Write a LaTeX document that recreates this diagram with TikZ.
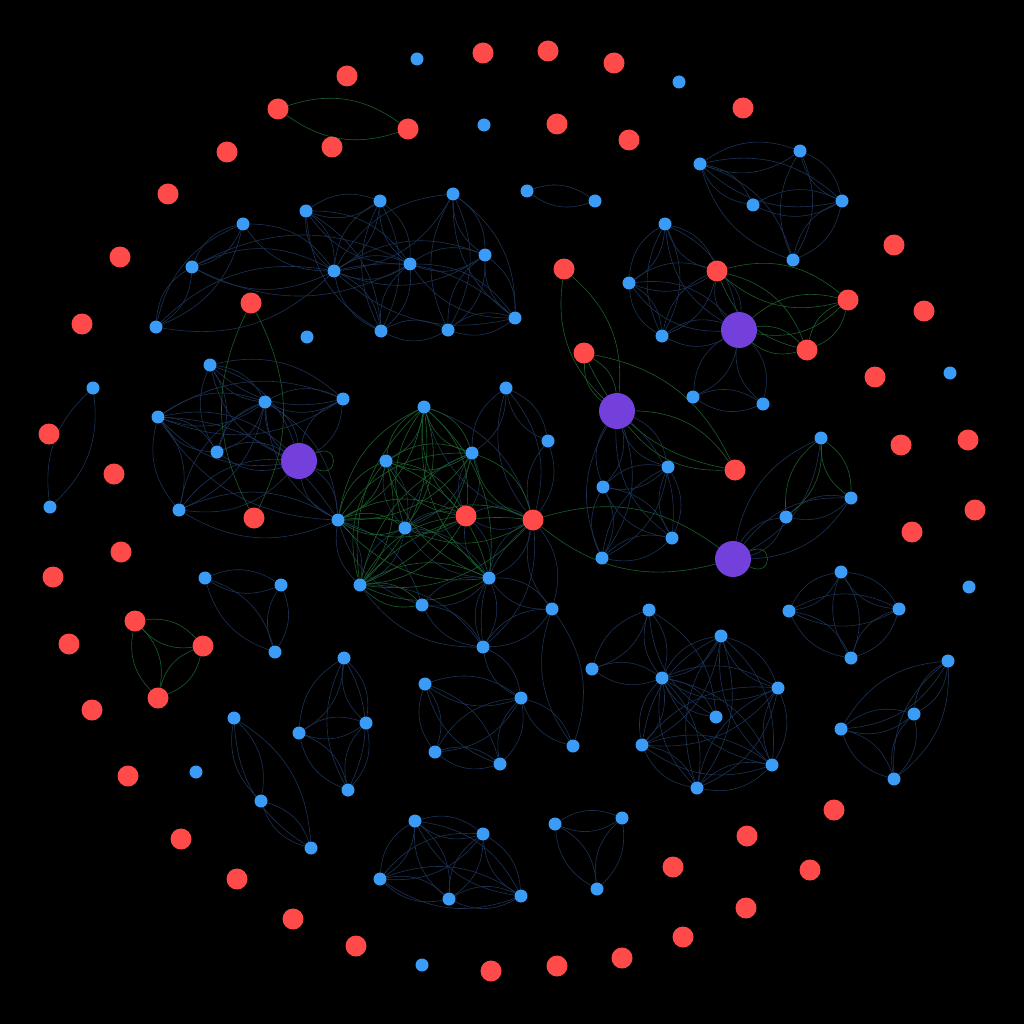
\documentclass[tikz,border=0pt]{standalone}
\usetikzlibrary{backgrounds}
\definecolor{nblue}{HTML}{3A9CF7}
\definecolor{nred}{HTML}{FF4A4A}
\definecolor{npurp}{HTML}{7440DC}
\definecolor{eblue}{HTML}{1C3356}
\definecolor{egreen}{HTML}{1A5E2C}
\tikzset{
  bnode/.style={circle,fill=nblue,draw=none,minimum size=13pt,inner sep=0pt},
  rnode/.style={circle,fill=nred,draw=none,minimum size=21pt,inner sep=0pt},
  pnode/.style={circle,fill=npurp,draw=none,minimum size=36pt,inner sep=0pt},
  bedge/.style={draw=eblue,line width=0.6pt},
  gedge/.style={draw=egreen,line width=0.6pt},
}
\begin{document}
\begin{tikzpicture}[x=1pt,y=-1pt]
\useasboundingbox (0,0) rectangle (1024,1024);
% red nodes
\foreach \n/\x/\y in {r01/347/76,r02/483/53,r03/548/51,r04/614/63,r05/743/108,r06/278/109,r07/408/129,r08/332/147,r09/557/124,r10/629/140,r11/227/152,r12/168/194,r13/894/245,r14/120/257,r15/564/269,r16/717/271,r17/848/300,r18/251/303,r19/924/311,r20/82/324,r21/807/350,r22/584/353,r23/875/377,r24/49/434,r25/968/440,r26/901/445,r27/114/474,r28/735/470,r29/975/510,r30/254/518,r31/466/516,r32/533/520,r33/912/532,r34/121/552,r35/53/577,r36/135/621,r37/203/646,r38/69/644,r39/158/698,r40/92/710,r41/128/776,r42/834/810,r43/747/836,r44/181/839,r45/673/867,r46/810/870,r47/237/879,r48/746/908,r49/293/919,r50/683/937,r51/356/946,r52/622/958,r53/557/966,r54/491/971}
  \node[rnode] (\n) at (\x,\y) {};
% purple nodes
\foreach \n/\x/\y in {pA/739/330,pB/617/411,pC/299/461,pD/733/559}
  \node[pnode] (\n) at (\x,\y) {};
% blue nodes
\foreach \n/\x/\y in {u1/417/59,u2/679/82,u3/484/125,u4/307/337,u5/950/373,u6/969/587,u7/196/772,u8/422/965,
  s1/527/191,s2/595/201,t1/93/388,t2/50/507,
  a1/243/224,a2/192/267,a3/156/327,a4/334/271,a5/306/211,a6/380/201,a7/410/264,a8/381/331,a9/453/194,a10/485/255,a11/448/330,a12/515/318,
  b1/700/164,b2/800/151,b3/842/201,b4/753/205,b5/793/260,
  c1/665/224,c2/629/283,c3/662/336,d1/693/397,d2/763/404,
  e1/668/467,e2/603/487,e3/672/538,e4/602/558,
  f1/821/438,f2/851/498,f3/786/517,
  g1/210/365,g2/265/402,g3/343/399,g4/158/417,g5/217/452,g6/179/510,
  h1/338/520,h2/424/407,h3/386/461,h4/472/453,h5/405/528,h6/360/585,h7/422/605,h8/489/578,h9/552/609,h10/483/647,i1/506/388,i2/548/441,
  j1/205/578,j2/281/585,j3/275/652,
  k1/344/658,k2/299/733,k3/366/723,k4/348/790,
  l1/234/718,l2/261/801,l3/311/848,
  m1/425/684,m2/521/698,m3/435/752,m4/500/764,m5/573/746,
  n1/649/610,n2/592/669,n3/662/678,n4/721/636,n5/716/717,n6/778/688,n7/642/745,n8/772/765,n9/697/788,
  o1/841/572,o2/789/611,o3/899/609,o4/851/658,
  p1/948/661,p2/914/714,p3/841/729,p4/894/779,
  q1/415/821,q2/483/834,q3/380/879,q4/449/899,q5/521/896,
  w1/555/824,w2/622/818,w3/597/889}
  \node[bnode] (\n) at (\x,\y) {};
\begin{scope}[on background layer]
\fill[black] (0,0) rectangle (1024,1024);
% blue edges
\foreach \a/\b in {s1/s2,t1/t2,
  a1/a2,a1/a3,a1/a4,a2/a3,a2/a4,a3/a4,a2/a7,a4/a5,a4/a6,a4/a7,a4/a8,a4/a9,a4/a10,a4/a12,a5/a6,a5/a7,a5/a8,a6/a7,a6/a8,a7/a8,a7/a10,a7/a12,a9/a10,a9/a11,a9/a12,a10/a11,a10/a12,a11/a12,a8/a11,
  b1/b2,b1/b3,b1/b5,b2/b3,b2/b5,b3/b5,b4/b3,b1/b4,
  c1/c2,c1/c3,c1/r16,c1/pA,c2/c3,c2/r16,c2/pA,c3/r16,c3/pA,r16/pA,pA/d1,pA/d2,d1/d2,
  pB/e1,pB/e2,pB/e3,pB/e4,e1/e2,e1/e3,e1/e4,e2/e3,e2/e4,e3/e4,
  pD/f1,pD/f2,pD/f3,f2/f3,
  g1/g2,g1/g3,g1/g5,g1/pC,g2/g3,g2/g4,g2/g5,g2/pC,g2/g6,g3/g4,g3/pC,g4/g5,g4/g6,g4/pC,g5/pC,g6/pC,g6/h1,g4/h1,g2/h1,pC/h1,
  h1/h6,h1/h7,h5/h6,h5/h8,h5/r31,r31/h8,r31/r32,r32/h8,r32/h9,r32/h10,h8/h9,h8/h10,h9/h10,h7/h8,h7/h10,h4/r31,h4/h5,i1/i2,i1/r32,i2/r32,i1/h4,h3/h5,h2/r32,h10/m2,h9/m5,h6/h10,
  j1/j2,j1/j3,j2/j3,
  k1/k2,k1/k3,k1/k4,k2/k3,k2/k4,k3/k4,
  l1/l2,l1/l3,l2/l3,
  m1/m2,m1/m3,m1/m4,m2/m3,m2/m4,m3/m4,m2/m5,
  n1/n2,n1/n3,n2/n3,n1/n5,n3/n5,n3/n4,n3/n6,n3/n7,n3/n8,n3/n9,n4/n6,n4/n7,n4/n8,n4/n9,n6/n7,n6/n8,n6/n9,n7/n8,n7/n9,n8/n9,
  o1/o2,o1/o3,o1/o4,o2/o3,o2/o4,o3/o4,
  p1/p2,p1/p3,p1/p4,p2/p3,p2/p4,p3/p4,
  q1/q2,q1/q3,q1/q4,q1/q5,q2/q3,q2/q4,q2/q5,q3/q4,q3/q5,q4/q5,
  w1/w2,w1/w3,w2/w3}
  {\draw[bedge] (\a) to[bend left=27] (\b); \draw[bedge] (\a) to[bend right=27] (\b);}
% green edges
\foreach \a/\b in {r06/r07,r36/r37,r36/r39,r37/r39,r18/r30,
  r16/r17,r16/r21,pA/r17,pA/r21,r17/r21,
  r15/pB,r22/pB,r22/r28,pB/r28,r32/pD,f1/f2,f1/f3,
  h2/h1,h2/h3,h2/h4,h2/h5,h2/h6,h2/r31,h3/h1,h3/h4,h3/h6,h3/r31,h4/h6,h4/r32,h1/h5,h1/h8,h1/r31,h6/h8,h6/r31,h6/h7,h6/r32,h5/r32,h4/h1,h3/h8,h2/h8}
  {\draw[gedge] (\a) to[bend left=27] (\b); \draw[gedge] (\a) to[bend right=27] (\b);}
% self loops
\draw[gedge] (pC.25) .. controls +(24,-12) and +(24,12) .. (pC.-25);
\draw[gedge] (pD.25) .. controls +(24,-12) and +(24,12) .. (pD.-25);
\end{scope}
\end{tikzpicture}
\end{document}
